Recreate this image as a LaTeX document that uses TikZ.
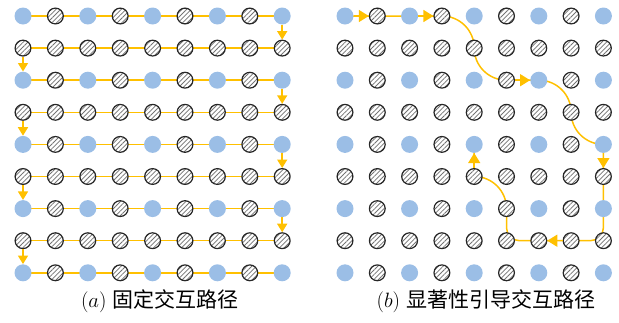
\documentclass[tikz,border=0pt]{standalone}
\usepackage{fontspec}
\newfontfamily\cjk{Noto Sans CJK SC}
\usetikzlibrary{arrows.meta,patterns.meta,backgrounds}
\definecolor{nodeblue}{RGB}{155,190,230}
\definecolor{linkyellow}{RGB}{255,192,0}
\tikzset{
  bnode/.style={circle,inner sep=0pt,minimum size=17pt,fill=nodeblue,draw=none},
  hnode/.style={circle,inner sep=0pt,minimum size=15.8pt,line width=1.2pt,draw=black!85,
    preaction={fill=white},
    pattern={Lines[angle=45,distance=3.3pt,line width=0.75pt]},pattern color=black!55},
  ylink/.style={draw=linkyellow,line width=1.5pt},
  larrow/.style={draw=linkyellow,line width=1.5pt,-{Triangle[length=8.5pt,width=10pt]}},
  rarrow/.style={draw=linkyellow,line width=1.5pt,-{Triangle[length=10pt,width=12pt]}},
  captxt/.style={inner sep=0pt,font=\fontsize{21}{25}\selectfont}
}
\begin{document}
\begin{tikzpicture}[x=1pt,y=-1pt]
\useasboundingbox (0,0) rectangle (619,322);
% nodes
\foreach \j in {0,...,8}{
  \foreach \i in {0,...,8}{
    \pgfmathtruncatemacro\isb{(1-mod(\j,2))*(1-mod(\i,2))}
    \ifnum\isb=1
      \node[bnode] (L-\j-\i) at ({23+32.4*\i},{16+32.1*\j}) {};
      \node[bnode] (R-\j-\i) at ({345+32.3*\i},{16+32.1*\j}) {};
    \else
      \node[hnode] (L-\j-\i) at ({23+32.4*\i},{16+32.1*\j}) {};
      \node[hnode] (R-\j-\i) at ({345+32.3*\i},{16+32.1*\j}) {};
    \fi
  }
}
\begin{scope}[on background layer]
  % left panel horizontal links
  \foreach \j in {0,...,8}{
    \foreach \i [count=\k] in {0,...,7}{
      \draw[ylink] (L-\j-\i.center) -- (L-\j-\k.center);
    }
  }
  % right panel path
  \draw[ylink] (R-0-0.center) -- (R-0-3.center)
    to[out=0,in=90] (R-1-4.center) to[out=-90,in=180] (R-2-5.center)
    -- (R-2-6.center)
    to[out=0,in=90] (R-3-7.center) to[out=-90,in=180] (R-4-8.center)
    -- (R-6-8.center);
  \draw[ylink,rounded corners=13pt] (R-6-8.center) -- (R-7-8.center) -- (R-7-5.center) -- (R-6-5.center);
  \draw[ylink] (R-6-5.center) to[out=90,in=0] (R-5-4.center) -- (R-4-4.center);
\end{scope}
% left panel arrows
\foreach \j in {0,2,4,6}{
  \pgfmathtruncatemacro\n{\j+1}
  \draw[larrow] (L-\j-8) -- (L-\n-8);
}
\foreach \j in {1,3,5,7}{
  \pgfmathtruncatemacro\n{\j+1}
  \draw[larrow] (L-\j-0) -- (L-\n-0);
}
% right panel arrows
\draw[rarrow] (R-0-0) -- (R-0-1);
\draw[rarrow] (R-0-2) -- (R-0-3);
\draw[rarrow] (R-2-5) -- (R-2-6);
\draw[rarrow] (R-4-8) -- (R-5-8);
\draw[rarrow] (R-7-7) -- (R-7-6);
\draw[rarrow] (R-5-4) -- (R-4-4);
% captions
\node[captxt] (capA) at (160,301) {($a$) {\cjk 固定交互路径}};
\node[captxt] (capB) at (486,301) {($b$) {\cjk 显著性引导交互路径}};
\end{tikzpicture}
\end{document}
